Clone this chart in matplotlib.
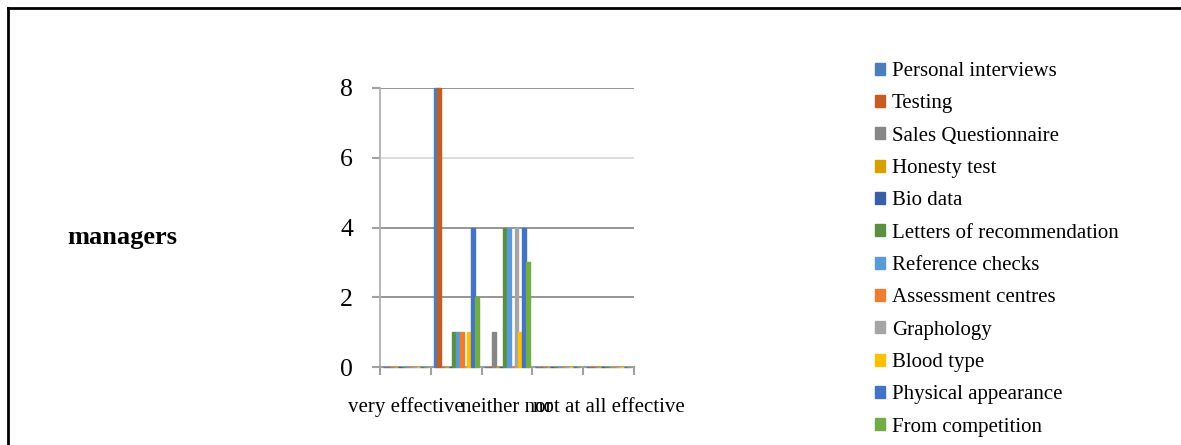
import matplotlib.pyplot as plt
from matplotlib.patches import Patch
from matplotlib.lines import Line2D

# data
categories = ["very effective", "effective", "neither nor", "not effective", "not at all effective"]
series_names = ["Personal interviews", "Testing", "Sales Questionnaire", "Honesty test",
                "Bio data", "Letters of recommendation", "Reference checks",
                "Assessment centres", "Graphology", "Blood type",
                "Physical appearance", "From competition"]
personal_interviews = [0, 8, 0, 0, 0]
testing = [0, 8, 0, 0, 0]
sales_questionnaire = [0, 0, 1, 0, 0]
honesty_test = [0, 0, 0, 0, 0]
bio_data = [0, 0, 0, 0, 0]
letters = [0, 1, 4, 0, 0]
reference_checks = [0, 1, 4, 0, 0]
assessment_centres = [0, 1, 0, 0, 0]
graphology = [0, 0, 4, 0, 0]
blood_type = [0, 1, 1, 0, 0]
physical_appearance = [0, 4, 4, 0, 0]
from_competition = [0, 2, 3, 0, 0]
yticks = [0, 2, 4, 6, 8]

values = [personal_interviews, testing, sales_questionnaire, honesty_test, bio_data,
          letters, reference_checks, assessment_centres, graphology, blood_type,
          physical_appearance, from_competition]
colors = ["#4A7EBA", "#C65B24", "#878787", "#D6A000", "#3B5EA7", "#5B9040",
          "#5B9BD5", "#ED7D31", "#A5A5A5", "#FFC000", "#4472C4", "#70AD47"]

plt.rcParams["font.family"] = ["Liberation Serif", "DejaVu Serif"]

fig = plt.figure(figsize=(11.81, 4.45), dpi=100)
ax = fig.add_axes([380 / 1181, 78 / 445, 254 / 1181, 279 / 445])

n = len(values)
w = 1 / (n + 1.5)
for s, vals in enumerate(values):
    xs = [i - 0.5 + 0.75 * w + (s + 0.5) * w for i in range(len(categories))]
    ax.bar(xs, vals, width=w, color=colors[s], edgecolor=colors[s], linewidth=1.0,
           zorder=3, clip_on=False)

ax.set_xlim(-0.5, len(categories) - 0.5)
ax.set_ylim(0, 8)
ax.set_yticks(yticks)
ax.set_yticklabels([str(t) for t in yticks], fontsize=18.5)

# gridlines (the 6 line is lighter in the original)
for t in yticks[1:]:
    gc = "#DADADA" if t == 6 else "#8E8E8E"
    ax.axhline(t, color=gc, linewidth=1.3, zorder=1)

# category boundary ticks, labels at centres (every other one shows)
ax.set_xticks([i - 0.5 for i in range(len(categories) + 1)])
ax.set_xticklabels([])
ax.set_xticks(range(0, len(categories), 2), minor=True)
ax.set_xticklabels(categories[::2], minor=True, fontsize=15)
ax.tick_params(axis="x", which="minor", length=0, pad=22)
ax.tick_params(axis="x", which="major", length=6, width=1.5, color="#A0A0A0")
ax.tick_params(axis="y", length=6, width=1.5, color="#A0A0A0", pad=13.5)

for side in ["top", "right"]:
    ax.spines[side].set_visible(False)
ax.spines["left"].set_color("#B0B0B0")
ax.spines["bottom"].set_color("#A0A0A0")
ax.spines["left"].set_linewidth(1.3)
ax.spines["bottom"].set_linewidth(1.5)

fig.text(67 / 1181, 1 - 237 / 445, "managers", fontsize=19, fontweight="bold", va="center", ha="left")

handles = [Patch(facecolor=c, edgecolor=c) for c in colors]
fig.legend(handles, series_names, loc="upper left", bbox_to_anchor=(875 / 1181, 1 - 62 / 445),
           frameon=False, fontsize=15, handlelength=0.5, handleheight=0.5,
           handletextpad=0.3, labelspacing=0.64, borderpad=0, borderaxespad=0)

# black frame (top and left edges visible)
fig.add_artist(Line2D([8 / 1181, 1], [1 - 8 / 445, 1 - 8 / 445], color="black", linewidth=2, transform=fig.transFigure))
fig.add_artist(Line2D([8 / 1181, 8 / 1181], [0, 1 - 8 / 445], color="black", linewidth=2, transform=fig.transFigure))

fig.savefig("out.png", dpi=100)
